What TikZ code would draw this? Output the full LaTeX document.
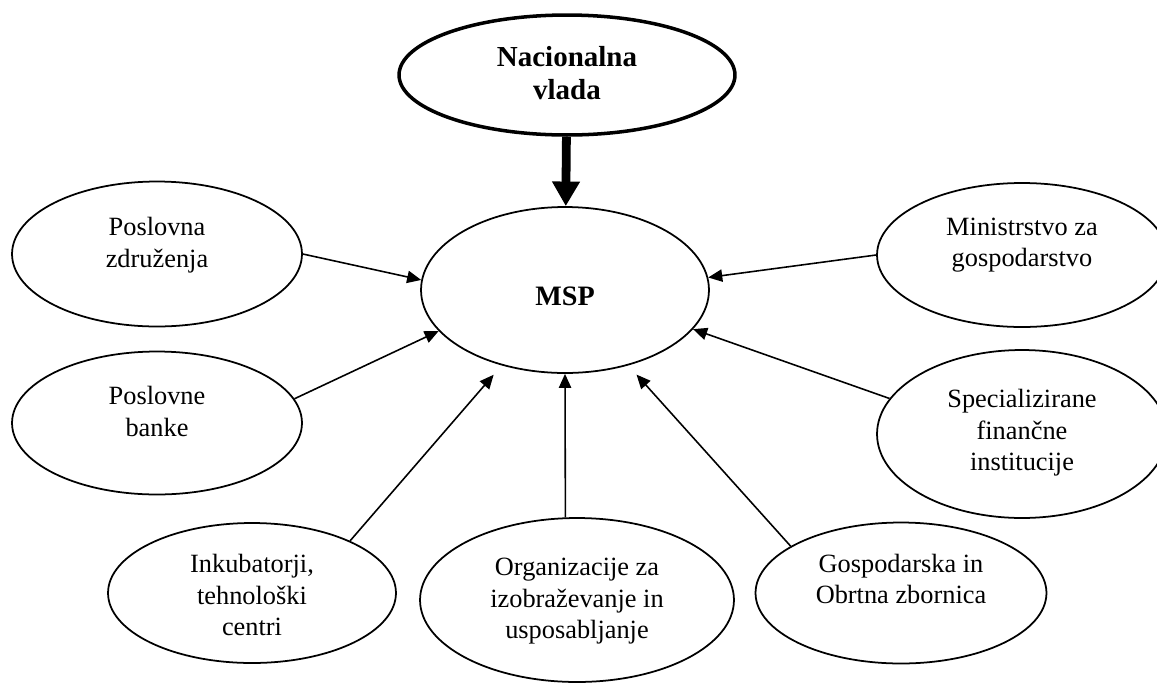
\documentclass[tikz,border=0pt]{standalone}
\usepackage{fontspec}
\setmainfont{Liberation Serif}
\usetikzlibrary{shapes.geometric,arrows.meta}

\begin{document}
\begin{tikzpicture}[x=0.02cm, y=-0.02cm,
    oval/.style={draw, ellipse, line width=1pt, inner sep=0pt, align=center,
        font=\fontsize{15}{18}\selectfont, text depth=2pt},
    link/.style={line width=0.9pt, -{Triangle[length=8pt,width=7pt]}},
    heavy/.style={line width=5pt, -{Triangle[length=14pt,width=15pt]}}]
    \useasboundingbox (0,0) rectangle (1157,684);

    \node[oval, line width=2pt, minimum width=6.72cm, minimum height=2.4cm,
        font=\fontsize{16.5}{19}\selectfont\bfseries, text height=30.3pt] (gov) at (567,75) {Nacionalna\\vlada};
    \node[oval, minimum width=5.76cm, minimum height=3.32cm,
        font=\fontsize{16}{19}\selectfont\bfseries, text height=20pt] (msp) at (565,290) {MSP};

    \node[oval, minimum width=5.8cm, minimum height=2.9cm, text height=16.8pt] (pz) at (157,254) {Poslovna\\združenja};
    \node[oval, minimum width=5.8cm, minimum height=2.86cm, text height=16.8pt] (pb) at (157,423) {Poslovne\\banke};
    \node[oval, minimum width=5.8cm, minimum height=2.88cm, text height=15.6pt] (mg) at (1022,255) {Ministrstvo za\\gospodarstvo};
    \node[oval, minimum width=5.8cm, minimum height=3.36cm, text height=44pt] (sf) at (1022,434) {Specializirane\\finančne\\institucije};

    \node[oval, minimum width=5.76cm, minimum height=2.8cm, text height=50.8pt] (inkub) at (252,593) {Inkubatorji,\\tehnološki\\centri};
    \node[oval, minimum width=6.28cm, minimum height=3.28cm, text height=46.2pt] (org) at (577,600) {Organizacije za\\izobraževanje in\\usposabljanje};
    \node[oval, minimum width=5.82cm, minimum height=2.82cm, text height=14.5pt] (gz) at (901,593) {Gospodarska in\\Obrtna zbornica};

    \draw[heavy] (gov) -- (msp);
    \draw[link] (pz.east) -- (msp.176);
    \draw[link] (pb.10) -- (msp.198);
    \draw[link] (mg.west) -- (msp.5);
    \draw[link] (sf.165) -- (msp.343);
    \draw[link, shorten >=7pt] (inkub.28) -- (msp.230);
    \draw[link] (org.98) -- (msp.south);
    \draw[link, shorten >=7pt] (gz.157) -- (msp.310);
\end{tikzpicture}
\end{document}
